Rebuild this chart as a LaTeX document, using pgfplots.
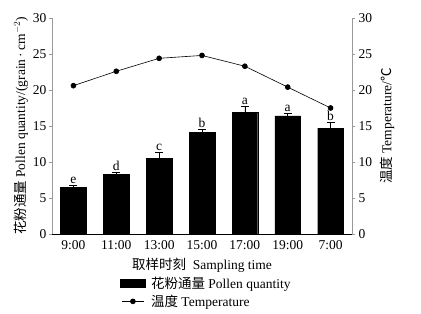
\documentclass[border=0pt]{standalone}
\usepackage{pgfplots}
\pgfplotsset{compat=1.18}
\usepackage{pgfplotstable}
\usepackage{fontspec}
\setmainfont{Liberation Serif}
\newfontfamily\cjk{Noto Sans CJK SC}
\newcommand{\fs}{\fontsize{13.5}{16}\selectfont}

\pgfplotstableread{
x y e lab
0 6.50 0.26 e
1 8.29 0.30 d
2 10.50 0.80 c
3 14.10 0.40 b
4 16.85 0.95 a
5 16.40 0.30 a
6 14.70 0.80 b
}\pollen

\pgfplotstableread{
x t lab top
0 20.6 e 6.76
1 22.6 d 8.59
2 24.4 c 11.30
3 24.8 b 14.50
4 23.3 a 17.80
5 20.4 a 16.70
6 17.5 b 15.50
}\temp

\begin{document}
\begin{tikzpicture}
\begin{axis}[
  name=ax,
  scale only axis, width=300pt, height=216pt,
  xmin=-0.5, xmax=6.5, ymin=0, ymax=30,
  axis x line*=bottom, axis y line*=left,
  x axis line style={-, black, line width=0.8pt},
  y axis line style={-, gray!80, line width=0.8pt},
  xtick={0,...,6},
  xticklabels={9:00,11:00,13:00,15:00,17:00,19:00,7:00},
  xtick style={draw=none},
  ytick={0,5,...,30},
  ytick style={gray!80, line width=0.6pt},
  tick align=outside, major tick length=3pt,
  /pgf/number format/assume math mode=true,
  tick label style={font=\fs, black},
  yticklabel style={xshift=1pt},
  label style={font=\fs},
  xlabel={{\cjk 取样时刻}\ \ Sampling time},
  ylabel={{\cjk 花粉通量} Pollen quantity/(grain\,·\,cm$^{-2}$)},
  xlabel style={yshift=-2pt},
  ylabel style={yshift=-2pt},
  clip=false,
]
\addplot[ybar, bar width=0.6, fill=black, draw=black,
  error bars/.cd, y dir=plus, y explicit,
  error bar style={black, line width=0.6pt},
  error mark options={rotate=90, black, mark size=4pt, line width=0.6pt}]
  table[x=x, y=y, y error=e] {\pollen};
\addplot[draw=none, mark=none, nodes near coords,
  point meta=explicit symbolic,
  every node near coord/.append style={font=\fs, anchor=south, inner sep=1.5pt}]
  table[x=x, y=top, meta=lab] {\temp};
\end{axis}
\begin{axis}[
  scale only axis, width=300pt, height=216pt,
  xmin=-0.5, xmax=6.5, ymin=0, ymax=30,
  axis x line=none, axis y line*=right,
  y axis line style={-, gray!80, line width=0.8pt},
  ytick={0,5,...,30},
  ytick style={gray!80, line width=0.6pt},
  tick align=outside, major tick length=3pt,
  /pgf/number format/assume math mode=true,
  tick label style={font=\fs, black},
  label style={font=\fs},
  ylabel={{\cjk 温度} Temperature/{\cjk ℃}},
  ylabel style={yshift=-1pt},
  legend style={draw=none, at={(0.215,-0.18)}, anchor=north west,
    font=\fs, row sep=1pt, fill=none},
  legend cell align=left,
  clip=false,
]
\addlegendimage{legend image code/.code={\fill[black] (0pt,-4pt) rectangle (25pt,4pt);}}
\addlegendentry{\hspace{4pt}{\cjk 花粉通量}\ Pollen quantity}
\addplot[black, line width=0.6pt, mark=*, mark size=2.5pt,
  legend image code/.code={\draw[black, line width=0.6pt] (2pt,0pt) -- (24pt,0pt); \fill[black] (13pt,0pt) circle (2.5pt);}]
  table[x=x, y=t] {\temp};
\addlegendentry{\hspace{4pt}{\cjk 温度}\ Temperature}
\end{axis}
\useasboundingbox ([xshift=-52pt,yshift=-80pt]ax.south west) rectangle ([xshift=69pt,yshift=18pt]ax.north east);
\end{tikzpicture}
\end{document}
